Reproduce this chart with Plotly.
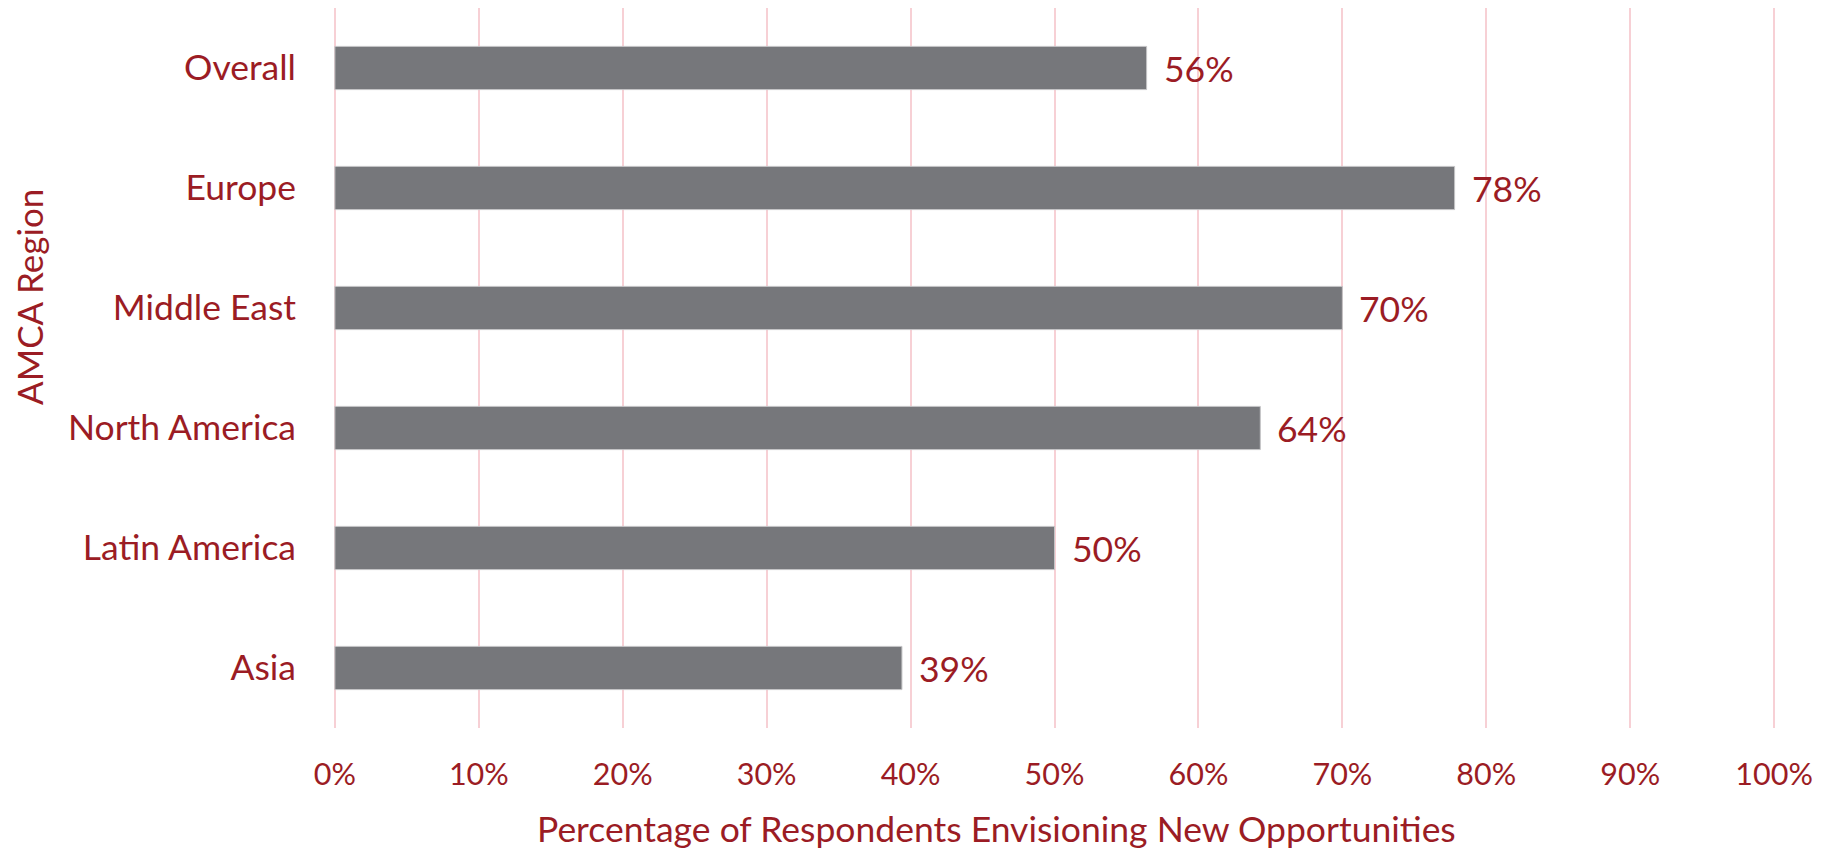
import plotly.graph_objects as go

regions = ["Overall", "Europe", "Middle East", "North America", "Latin America", "Asia"]
values = [0.564, 0.778, 0.700, 0.643, 0.500, 0.394]
value_labels = ["56%", "78%", "70%", "64%", "50%", "39%"]
x_ticks = [0, 0.1, 0.2, 0.3, 0.4, 0.5, 0.6, 0.7, 0.8, 0.9, 1.0]
x_tick_labels = ["0%", "10%", "20%", "30%", "40%", "50%", "60%", "70%", "80%", "90%", "100%"]

RED = "#9B1C24"
FONT = "Lato"

# page body has an 8px default margin; lay out the figure to fit inside the window
OFF = 8
W, H = 1837 - OFF, 851 - OFF
L, R, T, B = 332 - OFF, 60, 0, 123
pw = W - L - R
ph = H - T - B

fig = go.Figure()
fig.add_trace(go.Bar(
    y=regions, x=values, orientation="h",
    marker=dict(color="#76777B", line=dict(color="#C4C4C6", width=1)),
    hoverinfo="skip",
))

annotations = []
for r, v, lab in zip(regions, values, value_labels):
    annotations.append(dict(x=v, y=r, xref="x", yref="y", text=lab, showarrow=False,
                            xanchor="left", yanchor="middle", xshift=15,
                            font=dict(family=FONT, size=35.5, color=RED)))

annotations.append(dict(text="Percentage of Respondents Envisioning New Opportunities",
                        xref="paper", yref="paper", x=(996 - OFF - L) / pw,
                        y=(H - B - (828 - OFF)) / ph,
                        xanchor="center", yanchor="middle", showarrow=False,
                        font=dict(family=FONT, size=35.5, color=RED)))
annotations.append(dict(text="AMCA Region", textangle=-90,
                        xref="paper", yref="paper", x=(29 - OFF - L) / pw,
                        y=(H - B - (297 - OFF)) / ph,
                        xanchor="center", yanchor="middle", showarrow=False,
                        font=dict(family=FONT, size=35, color=RED)))

fig.update_layout(
    width=W, height=H,
    margin=dict(l=L, r=R, t=T, b=B, pad=0),
    paper_bgcolor="white", plot_bgcolor="white",
    showlegend=False,
    bargap=0.64,
    annotations=annotations,
    xaxis=dict(range=[-0.002, 1.002], tickvals=x_ticks, ticktext=x_tick_labels,
               showgrid=True, gridcolor="#F7D0D5", gridwidth=2, zeroline=False,
               showline=False, ticks="", ticklabelstandoff=25,
               tickfont=dict(family=FONT, size=30.5, color=RED), fixedrange=True),
    yaxis=dict(autorange="reversed", showgrid=False, zeroline=False, showline=False,
               ticks="", ticklabelstandoff=35,
               tickfont=dict(family=FONT, size=35.5, color=RED), fixedrange=True),
)

fig.write_html("out.html")
